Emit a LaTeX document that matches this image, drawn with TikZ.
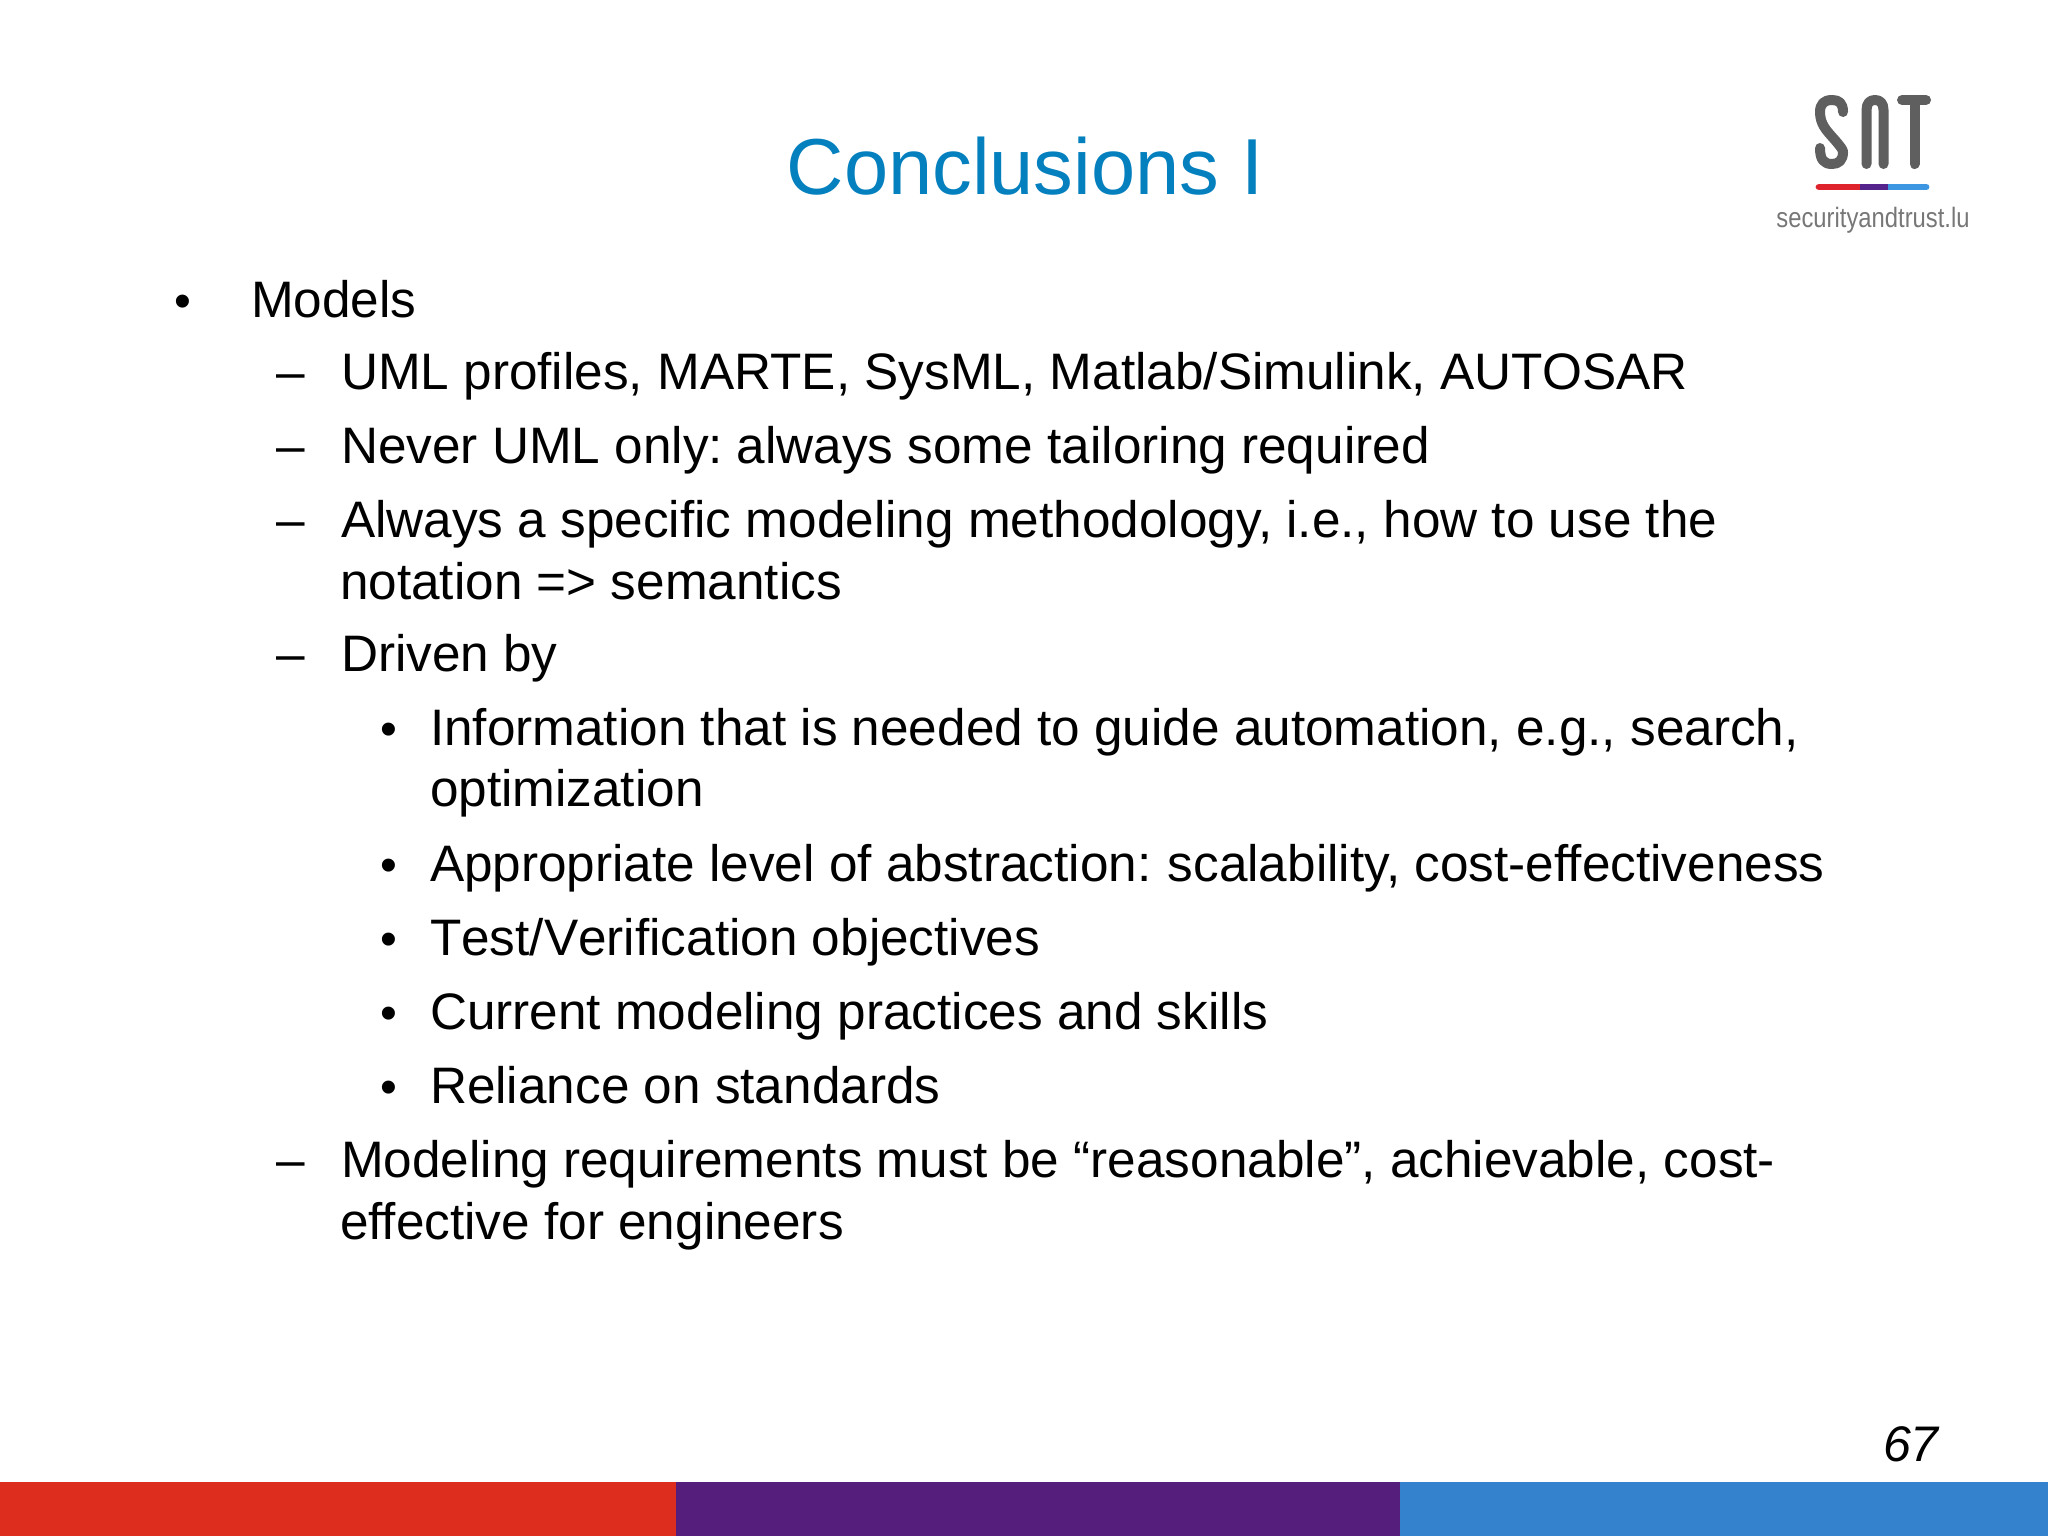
\documentclass[tikz,border=0pt]{standalone}
\usepackage{fontspec}
\setmainfont{Liberation Sans}
\definecolor{titleblue}{RGB}{5,128,190}
\definecolor{barred}{RGB}{221,45,30}
\definecolor{barpurple}{RGB}{85,30,125}
\definecolor{barblue}{RGB}{52,130,206}
\definecolor{logogray}{RGB}{95,95,95}
\definecolor{logored}{RGB}{222,35,45}
\definecolor{logopurple}{RGB}{85,35,140}
\definecolor{logoblue}{RGB}{60,150,225}
\tikzset{
  x=0.5pt,y=-0.5pt,
  body/.style={anchor=base west,inner sep=0pt,outer sep=0pt,yshift=0.4pt,font=\fontsize{25.65pt}{25.65pt}\selectfont,text=black},
  bulletmark/.style={body,font=\fontsize{24pt}{24pt}\selectfont},
  logostroke/.style={draw=logogray,line width=5pt,line cap=round,line join=round},
  logobar/.style={line width=3.4pt}
}
\begin{document}
\begin{tikzpicture}
\useasboundingbox (0,0) rectangle (2048,1536);
\fill[white] (0,0) rectangle (2048,1536);
% footer
\fill[barred] (0,1482) rectangle (676,1536);
\fill[barpurple] (676,1482) rectangle (1400,1536);
\fill[barblue] (1400,1482) rectangle (2048,1536);
% title
\node[anchor=base,inner sep=0pt,text=titleblue,font=\fontsize{39.7pt}{39.7pt}\selectfont] (title) at (1025,194) {Conclusions I};
% logo
\draw[logostroke] (1843,112) .. controls (1843,103) and (1839,100) .. (1832,100)
   .. controls (1824,100) and (1820,104) .. (1820,112)
   .. controls (1820,124) and (1826,130) .. (1834,139)
   .. controls (1841,147) and (1843,150) .. (1843,152)
   .. controls (1843,160) and (1839,164) .. (1832,164)
   .. controls (1824,164) and (1820,160) .. (1820,148);
\draw[logostroke] (1866.5,164) -- (1866.5,110) .. controls (1866.5,103) and (1870,100) .. (1875,100)
   .. controls (1880,100) and (1883.5,103) .. (1883.5,110) -- (1883.5,164);
\draw[logostroke] (1902,100) -- (1926,100) (1914.5,100) -- (1914.5,164);
\draw[logobar,logoblue,line cap=round] (1888,187) -- (1926,187);
\draw[logobar,logored,line cap=round] (1819,187) -- (1860,187);
\draw[logobar,logopurple] (1860,187) -- (1888,187);
\node[anchor=base,inner sep=0pt,text=logogray!85,font=\fontsize{14pt}{14pt}\selectfont,xscale=0.85] (logotext) at (1873,227) {securityandtrust.lu};
% level 0
\node[bulletmark] (b0) at (174,318) {•};
\node[body] (t0) at (251,318) {Models};
% level 1
\node[body] (d1) at (276,390) {–};
\node[body] (t1) at (341,390) {UML profiles, MARTE, SysML, Matlab/Simulink, AUTOSAR};
\node[body] (d2) at (276,464) {–};
\node[body] (t2) at (341,464) {Never UML only:\kern-0.1em{} always some tailoring required};
\node[body] (d3) at (276,538) {–};
\node[body] (t3) at (341,538) {Always a specific modeling methodology, i.e., how to use the};
\node[body] (t3b) at (340,600) {notation => semantics};
\node[body] (d4) at (276,672) {–};
\node[body] (t4) at (341,672) {Driven by};
% level 2
\node[bulletmark] (b5) at (380,746) {•};
\node[body] (t5) at (430,746) {Information that is needed to guide automation, e.g., search,};
\node[body] (t5b) at (430,807) {optimization};
\node[bulletmark] (b6) at (380,882) {•};
\node[body] (t6) at (430,882) {Appropriate level of abstraction:\kern-0.05em{} scalability, cost-effectiveness};
\node[bulletmark] (b7) at (380,956) {•};
\node[body] (t7) at (430,956) {{\addfontfeature{Kerning=Off}Test/Verification} objectives};
\node[bulletmark] (b8) at (380,1030) {•};
\node[body] (t8) at (430,1030) {Current modeling practices and skills};
\node[bulletmark] (b9) at (380,1104) {•};
\node[body] (t9) at (430,1104) {Reliance on standards};
% last
\node[body] (d10) at (276,1178) {–};
\node[body] (t10) at (341,1178) {Modeling requirements must be “reasonable”, achievable, cost-};
\node[body] (t10b) at (340,1240) {effective for engineers};
% page number
\node[anchor=base east,inner sep=0pt,font=\fontsize{25pt}{25pt}\selectfont\itshape] (page) at (1939,1461) {67};
\end{tikzpicture}
\end{document}
